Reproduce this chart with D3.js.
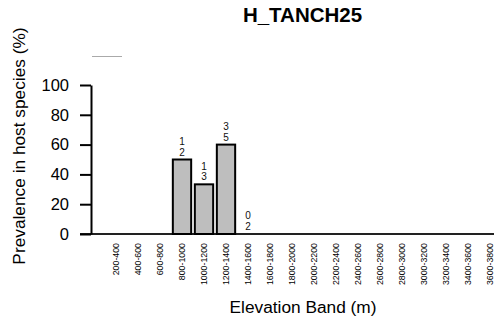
<!DOCTYPE html>
<html>
<head>
<meta charset="utf-8">
<script src="https://cdn.jsdelivr.net/npm/d3@7"></script>
<style>
  html, body { margin: 0; padding: 0; background: #fff; }
  svg { display: block; font-family: "Liberation Sans", Arial, Helvetica, sans-serif; }
</style>
</head>
<body>
<svg id="chart" width="494" height="324"></svg>
<script>
const title = "H_TANCH25";
const categories = ["200-400","400-600","600-800","800-1000","1000-1200","1200-1400","1400-1600","1600-1800","1800-2000","2000-2200","2200-2400","2400-2600","2600-2800","2800-3000","3000-3200","3200-3400","3400-3600","3600-3800"];
const prevalence = [0,0,0,50,33.33,60,0,0,0,0,0,0,0,0,0,0,0,0];
const positives  = [null,null,null,1,1,3,0,null,null,null,null,null,null,null,null,null,null,null];
const totals     = [null,null,null,2,3,5,2,null,null,null,null,null,null,null,null,null,null,null];
const yTicks = [0,20,40,60,80,100];
const yLabel = "Prevalence in host species (%)";
const xLabel = "Elevation Band (m)";

const svg = d3.select("#chart");

const x = d3.scaleBand().domain(categories).range([105, 501]).paddingInner(1/6).paddingOuter(1/12).align(0.5);
const y = d3.scaleLinear().domain([0, 100]).range([234, 85]);

// title
svg.append("text").attr("x", 302.5).attr("y", 22).attr("text-anchor", "middle")
  .attr("font-size", 20.5).attr("font-weight", "bold").attr("fill", "#000").text(title);

// small gray legend remnant
svg.append("line").attr("x1", 92).attr("x2", 122).attr("y1", 56.5).attr("y2", 56.5)
  .attr("stroke", "#aaa").attr("stroke-width", 1);

// baseline
svg.append("line").attr("x1", 80).attr("x2", 494).attr("y1", y(0)).attr("y2", y(0))
  .attr("stroke", "#222").attr("stroke-width", 2);

// bars
svg.append("g").selectAll("rect").data(categories).join("rect")
  .attr("x", d => x(d))
  .attr("width", x.bandwidth())
  .attr("y", (d, i) => y(prevalence[i]))
  .attr("height", (d, i) => y(0) - y(prevalence[i]))
  .attr("fill", "#bebebe").attr("stroke", "#000").attr("stroke-width", 2);

// count labels
const lbl = svg.append("g").attr("font-size", 10).attr("fill", "#111").attr("text-anchor", "middle");
categories.forEach((c, i) => {
  if (totals[i] === null) return;
  const cx = x(c) + x.bandwidth() / 2;
  const top = y(prevalence[i]);
  lbl.append("text").attr("x", cx).attr("y", top - 14.6).text(positives[i]);
  lbl.append("text").attr("x", cx).attr("y", top - 4).text(totals[i]);
});

// y axis
const yAxis = d3.axisLeft(y).tickValues(yTicks).tickSize(11).tickPadding(11).tickSizeOuter(0);
const gy = svg.append("g").attr("transform", "translate(91,0)").call(yAxis);
gy.select(".domain").attr("stroke", "#000").attr("stroke-width", 2);
gy.selectAll(".tick line").attr("stroke", "#000").attr("stroke-width", 2);
gy.selectAll(".tick text").attr("font-size", 16.5).attr("fill", "#000")
  .attr("font-family", "'Liberation Sans', Arial, sans-serif");

// x tick labels
const xAxis = d3.axisBottom(x).tickSize(0).tickPadding(0);
const gx = svg.append("g").attr("transform", "translate(0,243)").call(xAxis);
gx.select(".domain").remove();
gx.selectAll(".tick text")
  .attr("font-size", 8.8).attr("fill", "#000")
  .attr("font-family", "'Liberation Sans', Arial, sans-serif")
  .attr("transform", "rotate(-90)")
  .attr("text-anchor", "end")
  .attr("x", 0).attr("y", 0).attr("dy", "0.35em");

// axis titles
svg.append("text").attr("x", 303).attr("y", 313).attr("text-anchor", "middle")
  .attr("font-size", 17.3).attr("fill", "#000").text(xLabel);
svg.append("text").attr("transform", "translate(25,146) rotate(-90)").attr("text-anchor", "middle")
  .attr("font-size", 17.3).attr("fill", "#000").text(yLabel);
</script>
</body>
</html>
